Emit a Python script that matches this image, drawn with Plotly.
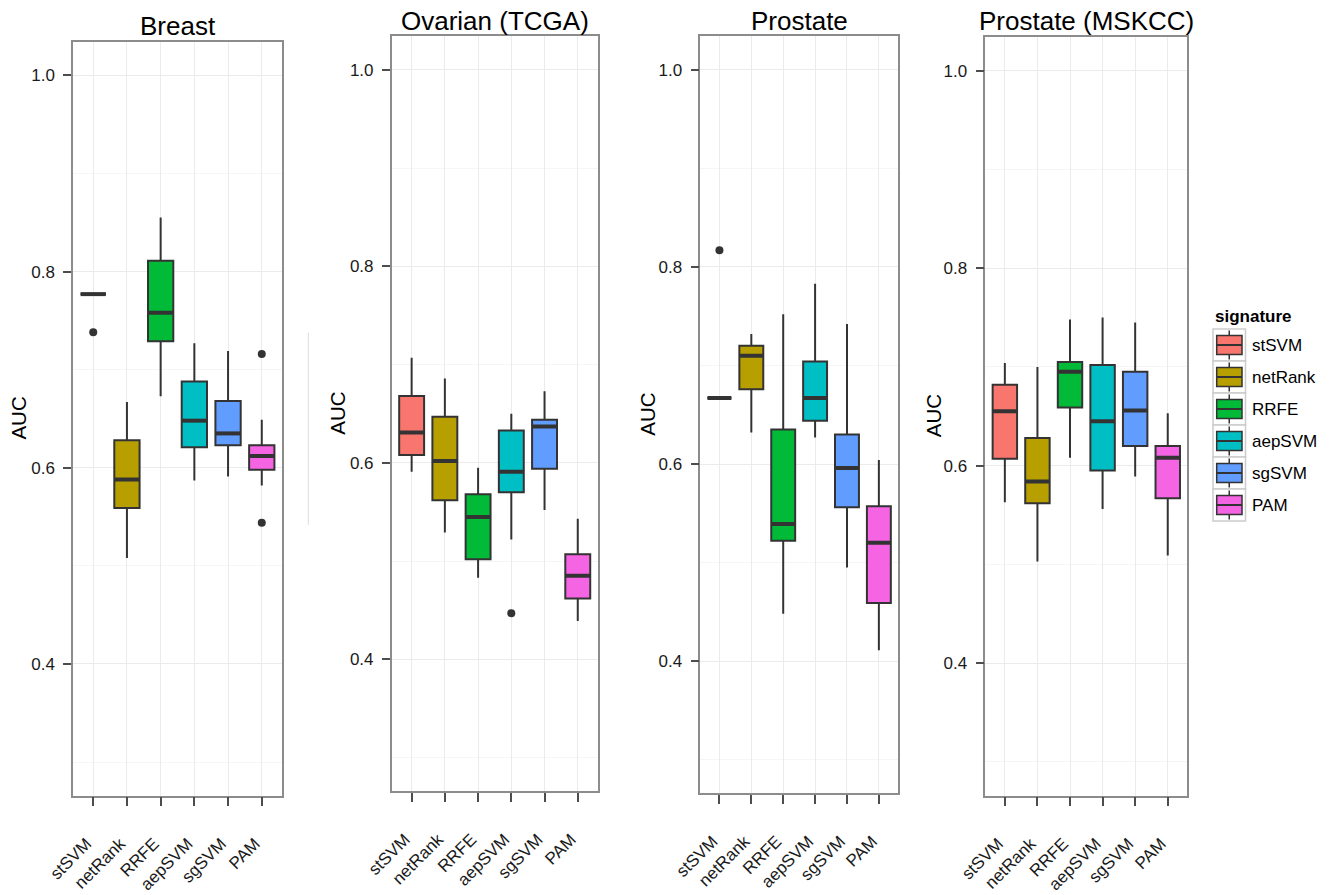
import plotly.graph_objects as go

# ---------------- data ----------------
signatures = ["stSVM", "netRank", "RRFE", "aepSVM", "sgSVM", "PAM"]
colors = ["#F8766D", "#B79F00", "#00BA38", "#00BFC4", "#619CFF", "#F564E3"]
panel_titles = ["Breast", "Ovarian (TCGA)", "Prostate", "Prostate (MSKCC)"]
y_ticks = [0.4, 0.6, 0.8, 1.0]
y_minor = [0.3, 0.5, 0.7, 0.9]

breast_low = [0.777, 0.508, 0.673, 0.587, 0.591, 0.582]
breast_q1 = [0.777, 0.559, 0.729, 0.621, 0.623, 0.598]
breast_med = [0.777, 0.588, 0.758, 0.648, 0.635, 0.612]
breast_q3 = [0.777, 0.628, 0.811, 0.688, 0.668, 0.623]
breast_up = [0.777, 0.667, 0.855, 0.727, 0.719, 0.649]
breast_out = [[0.738], [], [], [], [], [0.716, 0.544]]

ovarian_low = [0.591, 0.529, 0.483, 0.522, 0.552, 0.439]
ovarian_q1 = [0.608, 0.562, 0.502, 0.570, 0.594, 0.462]
ovarian_med = [0.631, 0.602, 0.545, 0.591, 0.637, 0.485]
ovarian_q3 = [0.668, 0.647, 0.568, 0.633, 0.644, 0.507]
ovarian_up = [0.707, 0.686, 0.595, 0.650, 0.673, 0.543]
ovarian_out = [[], [], [], [0.447], [], []]

prostate_low = [0.667, 0.632, 0.448, 0.627, 0.495, 0.411]
prostate_q1 = [0.667, 0.676, 0.522, 0.644, 0.556, 0.459]
prostate_med = [0.667, 0.710, 0.539, 0.667, 0.596, 0.520]
prostate_q3 = [0.667, 0.720, 0.635, 0.704, 0.630, 0.557]
prostate_up = [0.667, 0.732, 0.752, 0.783, 0.742, 0.604]
prostate_out = [[0.817], [], [], [], [], []]

mskcc_low = [0.563, 0.503, 0.608, 0.556, 0.589, 0.509]
mskcc_q1 = [0.607, 0.562, 0.659, 0.595, 0.620, 0.567]
mskcc_med = [0.655, 0.584, 0.695, 0.645, 0.656, 0.608]
mskcc_q3 = [0.682, 0.628, 0.705, 0.702, 0.695, 0.620]
mskcc_up = [0.704, 0.700, 0.748, 0.750, 0.745, 0.653]
mskcc_out = [[], [], [], [], [], []]

panels = [
    (breast_low, breast_q1, breast_med, breast_q3, breast_up, breast_out),
    (ovarian_low, ovarian_q1, ovarian_med, ovarian_q3, ovarian_up, ovarian_out),
    (prostate_low, prostate_q1, prostate_med, prostate_q3, prostate_up, prostate_out),
    (mskcc_low, mskcc_q1, mskcc_med, mskcc_q3, mskcc_up, mskcc_out),
]

# ---------------- layout geometry (pixels) ----------------
W, H = 1329, 895
FONT = "Liberation Sans, Arial, Helvetica, sans-serif"
INK = "#333333"
BOX_W = 0.75
# panel plot areas: (left, right, top, bottom)
areas = [(73, 282, 41.5, 795.7), (391.7, 597.7, 36, 791.3),
         (700.3, 898, 36, 793.3), (985.3, 1187.3, 36.7, 795.7)]
title_y = [25.5, 21.5, 21, 21]
auc_x = [19, 338, 648, 933]
# trailing no-break spaces nudge the rotated labels down-left like ggplot's hjust=1
x_ticktext = [s + "\u00a0\u00a0" for s in signatures]

def px(x):
    return x / W

def py(y):
    return 1 - y / H

fig = go.Figure()
layout = dict(width=W, height=H, margin=dict(l=0, r=0, t=0, b=0, autoexpand=False),
              paper_bgcolor="white", plot_bgcolor="white",
              boxmode="overlay", showlegend=False,
              font=dict(family=FONT, color="#1a1a1a"))
annotations = []
shapes = []

for p, (low, q1, med, q3, up, outs) in enumerate(panels):
    n = "" if p == 0 else str(p + 1)
    xa, ya = "x" + n, "y" + n
    l, r, t, b = areas[p]
    for i, sig in enumerate(signatures):
        pos = i + 1
        fig.add_trace(go.Box(
            x=[pos], q1=[q1[i]], median=[med[i]], q3=[q3[i]],
            lowerfence=[low[i]], upperfence=[up[i]],
            width=BOX_W, whiskerwidth=0, fillcolor=colors[i],
            line=dict(color=INK, width=2), boxpoints=False,
            name=sig, xaxis=xa, yaxis=ya, hoverinfo="skip"))
        # thicker median bar (ggplot fatten)
        fig.add_trace(go.Scatter(
            x=[pos - BOX_W / 2, pos + BOX_W / 2], y=[med[i], med[i]],
            mode="lines", line=dict(color=INK, width=4),
            xaxis=xa, yaxis=ya, hoverinfo="skip"))
        if outs[i]:
            fig.add_trace(go.Scatter(
                x=[pos] * len(outs[i]), y=outs[i], mode="markers",
                marker=dict(color=INK, size=8), xaxis=xa, yaxis=ya,
                hoverinfo="skip"))
    layout["xaxis" + n] = dict(
        domain=[px(l), px(r)], anchor=ya, range=[0.4, 6.6], automargin=False,
        tickmode="array", tickvals=list(range(1, 7)), ticktext=x_ticktext,
        tickangle=-45, tickfont=dict(size=17, color="#1a1a1a"),
        ticks="outside", ticklen=9, tickcolor="#4d4d4d", tickwidth=1.5,
        showgrid=True, gridcolor="#ebebeb", gridwidth=1,
        showline=True, linecolor="#8c8c8c", linewidth=1.5, mirror=True,
        zeroline=False, ticklabelstandoff=14)
    layout["yaxis" + n] = dict(
        domain=[py(b), py(t)], anchor=xa, range=[0.2657, 1.0345], automargin=False,
        tickmode="array", tickvals=y_ticks, ticktext=["0.4", "0.6", "0.8", "1.0"],
        tickfont=dict(size=17, color="#1a1a1a"),
        ticks="outside", ticklen=8, tickcolor="#4d4d4d", tickwidth=1.5,
        showgrid=True, gridcolor="#ebebeb", gridwidth=1,
        minor=dict(tickmode="array", tickvals=y_minor, showgrid=True,
                   gridcolor="#f5f5f5", gridwidth=1, ticks=""),
        showline=True, linecolor="#8c8c8c", linewidth=1.5, mirror=True,
        zeroline=False, ticklabelstandoff=5)
    annotations.append(dict(
        text=panel_titles[p], x=px((l + r) / 2), y=py(title_y[p]),
        xref="paper", yref="paper", xanchor="center", yanchor="middle",
        showarrow=False, font=dict(size=26, family=FONT, color="#000000")))
    annotations.append(dict(
        text="AUC", x=px(auc_x[p]), y=py((t + b) / 2), textangle=-90,
        xref="paper", yref="paper", xanchor="center", yanchor="middle",
        showarrow=False, font=dict(size=20.5, family=FONT, color="#000000")))

# stray vertical rule present in the original figure
shapes.append(dict(type="line", xref="paper", yref="paper",
                   x0=px(308.3), x1=px(308.3), y0=py(332.7), y1=py(525),
                   line=dict(color="#dddddd", width=1)))

# ---------------- manual ggplot-style legend ----------------
leg_x0, leg_x1 = 1213, 1245.5
leg_top, key_h = 329, 32
annotations.append(dict(
    text="<b>signature</b>", x=px(leg_x0), y=py(316.7), xref="paper", yref="paper",
    xanchor="left", yanchor="middle", showarrow=False,
    font=dict(size=17, family=FONT, color="#000000")))
for i, sig in enumerate(signatures):
    k0 = leg_top + i * key_h
    k1 = k0 + key_h
    kc = (k0 + k1) / 2
    xc = (leg_x0 + leg_x1) / 2
    shapes.append(dict(type="rect", xref="paper", yref="paper",
                       x0=px(leg_x0), x1=px(leg_x1), y0=py(k1), y1=py(k0),
                       fillcolor="white", line=dict(color="#cccccc", width=1.5),
                       layer="below"))
    shapes.append(dict(type="line", xref="paper", yref="paper",
                       x0=px(xc), x1=px(xc), y0=py(k1 - 1.5), y1=py(k0 + 1.5),
                       line=dict(color=INK, width=1.5)))
    shapes.append(dict(type="rect", xref="paper", yref="paper",
                       x0=px(leg_x0 + 3.7), x1=px(leg_x1 - 3.5),
                       y0=py(kc + 9.5), y1=py(kc - 9.5),
                       fillcolor=colors[i], line=dict(color=INK, width=1.5)))
    shapes.append(dict(type="line", xref="paper", yref="paper",
                       x0=px(leg_x0 + 3.7), x1=px(leg_x1 - 3.5),
                       y0=py(kc), y1=py(kc),
                       line=dict(color=INK, width=2)))
    annotations.append(dict(
        text=sig, x=px(1250), y=py(kc), xref="paper", yref="paper",
        xanchor="left", yanchor="middle", showarrow=False,
        font=dict(size=17, family=FONT, color="#000000")))

layout["annotations"] = annotations
layout["shapes"] = shapes
fig.update_layout(**layout)

fig.write_html("out.html", config={"displayModeBar": False},
               post_script="document.body.style.margin='0';")
